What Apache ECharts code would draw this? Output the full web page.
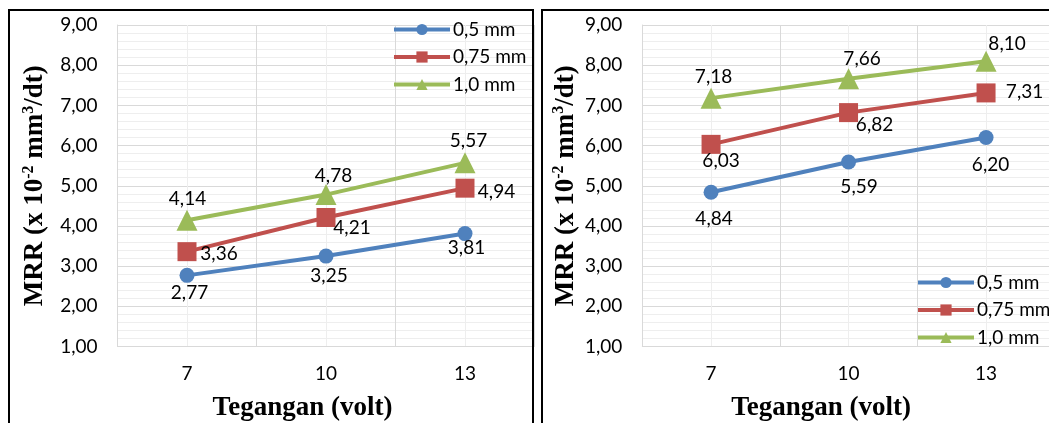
<!DOCTYPE html>
<html>
<head>
<meta charset="utf-8">
<script src="https://cdn.jsdelivr.net/npm/echarts@6/dist/echarts.min.js"></script>
<style>
html,body{margin:0;padding:0;background:#fff;}
#chart{width:1049px;height:423px;}
</style>
</head>
<body>
<div id="chart"></div>
<script>
// ---- data ----
const categories = ['7', '10', '13'];
const seriesNames = ['0,5 mm', '0,75 mm', '1,0 mm'];
const left05 = [2.77, 3.25, 3.81];
const left075 = [3.36, 4.21, 4.94];
const left10 = [4.14, 4.78, 5.57];
const right05 = [4.84, 5.59, 6.20];
const right075 = [6.03, 6.82, 7.31];
const right10 = [7.18, 7.66, 8.10];
const yMin = 1, yMax = 9, yStep = 1;
const xTitle = 'Tegangan (volt)';

// ---- layout (label offsets from marker centre) ----
const labelOffsetsLeft = [
  [[2.5, 18], [3, 20], [1.5, 14]],
  [[32, 2], [26, 10], [31.5, 4]],
  [[0.5, -21], [7.5, -19], [3.5, -22]]
];
const labelOffsetsRight = [
  [[3, 27], [10.5, 25], [4.5, 27]],
  [[10, 17], [26, 12], [38.5, -1.5]],
  [[2.5, -21.5], [13.5, -20], [21, -17]]
];

const colors = ['#4F81BD', '#C0504D', '#9BBB59'];
const symbols = ['circle', 'rect', 'triangle'];
const symbolSizes = [15, 19, 21];
const FONT = 'Lato';
const FS = 19;
const fmt = v => Number(v).toFixed(2).replace('.', ',');

const majorGrid = '#D9D9D9';
const minorGrid = '#EEEEEE';

function makeSeries(values, idx, gridIdx, offsets) {
  return {
    type: 'line',
    name: seriesNames[idx],
    xAxisIndex: gridIdx * 2 + 1,
    yAxisIndex: gridIdx,
    symbol: symbols[idx],
    symbolSize: symbolSizes[idx],
    lineStyle: { width: 4, color: colors[idx] },
    itemStyle: { color: colors[idx], borderWidth: 0 },
    z: 3 + idx,
    label: {
      show: true, position: 'inside', align: 'center', verticalAlign: 'middle',
      color: '#000', fontSize: FS, fontFamily: FONT,
      formatter: p => fmt(p.value)
    },
    emphasis: { disabled: true },
    animation: false,
    data: values.map((v, i) => ({ value: v, label: { offset: offsets[idx][i] } }))
  };
}

function minorXAxis(gridIdx) {
  return {
    type: 'category', gridIndex: gridIdx,
    position: 'top',
    data: ['', '', '', '', '', ''],
    boundaryGap: true,
    axisLine: { show: false }, axisTick: { show: false }, axisLabel: { show: false },
    splitLine: { show: true, interval: 0, lineStyle: { color: minorGrid, width: 1 } }
  };
}

function mainXAxis(gridIdx, padRight) {
  return {
    type: 'category', gridIndex: gridIdx,
    position: 'bottom',
    data: categories,
    boundaryGap: true,
    axisLine: { show: true, lineStyle: { color: majorGrid, width: 1 } },
    axisTick: { show: false },
    axisLabel: { color: '#000', fontSize: FS, fontFamily: FONT, margin: 18, interval: 0 },
    splitLine: { show: true, interval: 0, lineStyle: { color: majorGrid, width: 1 } },
    name: xTitle,
    nameLocation: 'middle',
    nameGap: 48,
    nameTextStyle: {
      fontFamily: 'Liberation Serif', fontWeight: 'bold', fontSize: 27, color: '#000',
      padding: [0, padRight, 0, 0]
    }
  };
}

function yAxis(gridIdx, gap) {
  return {
    type: 'value', gridIndex: gridIdx,
    min: yMin, max: yMax, interval: yStep,
    axisLine: { show: true, lineStyle: { color: majorGrid, width: 1 } },
    axisTick: { show: false },
    axisLabel: { color: '#000', fontSize: FS, fontFamily: FONT, margin: 20, formatter: fmt },
    splitLine: { show: true, lineStyle: { color: majorGrid, width: 1 } },
    minorTick: { show: false, splitNumber: 5 },
    minorSplitLine: { show: true, lineStyle: { color: minorGrid, width: 1 } },
    name: '{b|MRR (x 10}{s|-2}{b| mm}{s|3}{b|/dt)}',
    nameLocation: 'middle',
    nameRotate: 90,
    nameGap: gap,
    nameTextStyle: {
      color: '#000',
      rich: {
        b: { fontFamily: 'Liberation Serif', fontWeight: 'bold', fontSize: 27, color: '#000', lineHeight: 30 },
        s: { fontFamily: 'Liberation Serif', fontWeight: 'bold', fontSize: 16, color: '#000', verticalAlign: 'top', lineHeight: 18 }
      }
    }
  };
}

function legend(left, top) {
  return {
    orient: 'vertical', left: left, top: top,
    itemWidth: 56, itemHeight: 14, itemGap: 8.5,
    data: seriesNames,
    lineStyle: { width: 4 },
    textStyle: { color: '#000', fontSize: FS, fontFamily: FONT, padding: [0, 0, 0, -2] },
    selectedMode: false
  };
}

const option = {
  backgroundColor: '#fff',
  animation: false,
  grid: [
    { left: 117.5, top: 25, width: 417, height: 321.5, containLabel: false, outerBoundsMode: 'none' },
    { left: 642.3, top: 25, width: 412.5, height: 321.5, containLabel: false, outerBoundsMode: 'none' }
  ],
  xAxis: [minorXAxis(0), mainXAxis(0, 47), minorXAxis(1), mainXAxis(1, 55)],
  yAxis: [yAxis(0, 67), yAxis(1, 61)],
  legend: [legend(387, 15), legend(911, 268)],
  series: [
    makeSeries(left05, 0, 0, labelOffsetsLeft),
    makeSeries(left075, 1, 0, labelOffsetsLeft),
    makeSeries(left10, 2, 0, labelOffsetsLeft),
    makeSeries(right05, 0, 1, labelOffsetsRight),
    makeSeries(right075, 1, 1, labelOffsetsRight),
    makeSeries(right10, 2, 1, labelOffsetsRight)
  ],
  graphic: [
    { type: 'rect', shape: { x: 9, y: 10, width: 524, height: 440 }, style: { fill: 'none', stroke: '#000', lineWidth: 2 }, z: 100, silent: true },
    { type: 'rect', shape: { x: 542, y: 10, width: 540, height: 440 }, style: { fill: 'none', stroke: '#000', lineWidth: 2 }, z: 100, silent: true }
  ]
};

const chart = echarts.init(document.getElementById('chart'), null, { renderer: 'canvas' });
chart.setOption(option);
</script>
</body>
</html>
